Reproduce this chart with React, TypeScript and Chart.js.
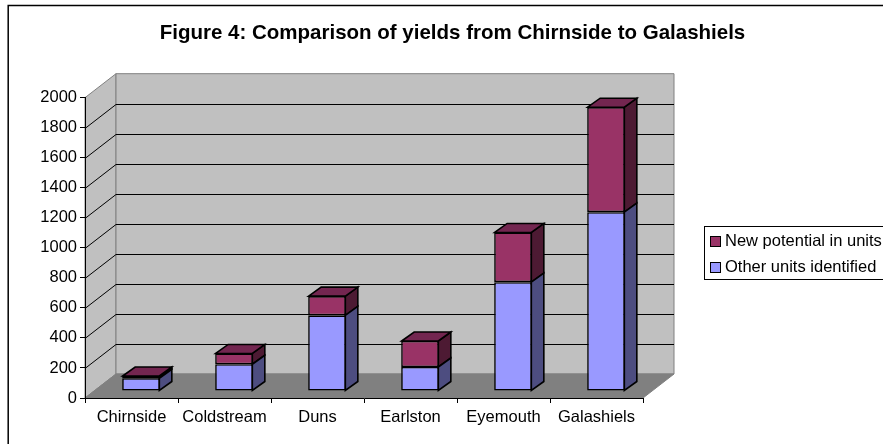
import React, { useEffect, useRef } from "react";
import { Chart, registerables } from "chart.js";

Chart.register(...registerables);

const categories = ["Chirnside", "Coldstream", "Duns", "Earlston", "Eyemouth", "Galashiels"];
const otherUnits = [85, 178, 504, 160, 725, 1191];
const newPotential = [15, 72, 128, 173, 331, 699];
const seriesLabels = ["Other units identified", "New potential in units"];
const titleText = "Figure 4: Comparison of yields from Chirnside to Galashiels";

const FONT = "'Liberation Sans', Arial, sans-serif";
const FONT_SIZE = 16.5;
const EDGE = 1.6;
const DEPTH = { x: 31, y: 24 };
const BAR_OFFSET = { x: 9.5, y: 7 };
const BAR_DEPTH = { x: 12.5, y: 9 };
const faces = [
  { front: "#9999ff", side: "#4d4d80", top: "#7a7acc" },
  { front: "#993366", side: "#4d1a33", top: "#732650" },
];

const poly = (ctx: CanvasRenderingContext2D, pts: number[][], fill?: string, stroke?: string, lw = 1) => {
  ctx.beginPath();
  pts.forEach(([x, y], i) => (i ? ctx.lineTo(x, y) : ctx.moveTo(x, y)));
  ctx.closePath();
  if (fill) {
    ctx.fillStyle = fill;
    ctx.fill();
  }
  if (stroke) {
    ctx.strokeStyle = stroke;
    ctx.lineWidth = lw;
    ctx.stroke();
  }
};

const threeD = {
  id: "threeD",
  beforeDraw(chart: any) {
    const { ctx, chartArea: a, scales } = chart;
    const { x: dx, y: dy } = DEPTH;
    ctx.save();
    ctx.fillStyle = "#ffffff";
    ctx.fillRect(0, 0, chart.width, chart.height);
    ctx.strokeStyle = "#000000";
    ctx.lineWidth = 1.5;
    ctx.beginPath();
    ctx.moveTo(8.2, chart.height);
    ctx.lineTo(8.2, 5.5);
    ctx.lineTo(chart.width, 5.5);
    ctx.stroke();
    const gray = "#808080";
    poly(ctx, [[a.left, a.top], [a.left + dx, a.top - dy], [a.left + dx, a.bottom - dy], [a.left, a.bottom]], "#c0c0c0", gray);
    poly(ctx, [[a.left + dx, a.top - dy], [a.right + dx, a.top - dy], [a.right + dx, a.bottom - dy], [a.left + dx, a.bottom - dy]], "#c0c0c0", gray);
    poly(ctx, [[a.left, a.bottom], [a.left + dx, a.bottom - dy], [a.right + dx, a.bottom - dy], [a.right, a.bottom]], gray, gray);
    ctx.strokeStyle = "#000000";
    ctx.lineWidth = 1;
    const y = scales.y;
    y.ticks.forEach((t: any) => {
      if (t.value === y.min || t.value === y.max) return;
      const py = Math.round(y.getPixelForValue(t.value)) + 0.5;
      ctx.beginPath();
      ctx.moveTo(a.left, py);
      ctx.lineTo(a.left + dx, py - dy);
      ctx.lineTo(a.right + dx, py - dy);
      ctx.stroke();
    });
    ctx.restore();
  },
  beforeDatasetDraw(chart: any, args: any) {
    const { ctx } = chart;
    const idx = args.index;
    const { x: bx, y: by } = BAR_DEPTH;
    ctx.save();
    ctx.translate(BAR_OFFSET.x, -BAR_OFFSET.y);
    args.meta.data.forEach((bar: any) => {
      const right = bar.x + bar.width / 2 - 0.5;
      const left = bar.x - bar.width / 2 + 0.5;
      const top = bar.y;
      const base = bar.base;
      poly(ctx, [[right, top], [right + bx, top - by], [right + bx, base - by], [right, base]], faces[idx].side, "#000000", EDGE);
      if (idx === chart.data.datasets.length - 1) {
        poly(ctx, [[left, top], [left + bx, top - by], [right + bx, top - by], [right, top]], faces[idx].top, "#000000", EDGE);
      }
    });
  },
  afterDatasetDraw(chart: any) {
    chart.ctx.restore();
  },
  afterLayout(chart: any) {
    const t = chart.titleBlock;
    t.left = 0;
    t.right = 905;
  },
  afterDraw(chart: any) {
    const { ctx } = chart;
    ctx.save();
    ctx.fillStyle = "#ffffff";
    ctx.fillRect(704.5, 226.5, 190, 53);
    ctx.strokeStyle = "#000000";
    ctx.lineWidth = 1;
    ctx.strokeRect(704.5, 226.5, 190, 53);
    ctx.font = `${FONT_SIZE}px ${FONT}`;
    ctx.textBaseline = "alphabetic";
    [...chart.data.datasets].reverse().forEach((ds: any, i: number) => {
      const y = 236.5 + i * 26;
      ctx.fillStyle = ds.backgroundColor;
      ctx.fillRect(710.5, y, 10, 10);
      ctx.strokeRect(710.5, y, 10, 10);
      ctx.fillStyle = "#000000";
      ctx.fillText(ds.label, 725, y + 9.5);
    });
    ctx.restore();
  },
};

export default function App() {
  const ref = useRef<HTMLCanvasElement>(null);
  useEffect(() => {
    document.body.style.margin = "0";
    const chart = new Chart(ref.current!, {
      type: "bar",
      data: {
        labels: categories,
        datasets: [
          { label: seriesLabels[0], data: otherUnits, backgroundColor: faces[0].front, borderColor: "#000000", borderWidth: EDGE, borderSkipped: false, clip: false } as any,
          { label: seriesLabels[1], data: newPotential, backgroundColor: faces[1].front, borderColor: "#000000", borderWidth: EDGE, borderSkipped: false, clip: false } as any,
        ],
      },
      options: {
        animation: false,
        responsive: false,
        layout: { padding: { left: 0, right: 240, top: 0, bottom: 0 } },
        datasets: { bar: { categoryPercentage: 1, barPercentage: 0.405 } },
        font: { family: FONT, size: FONT_SIZE },
        plugins: {
          legend: { display: false },
          tooltip: { enabled: false },
          title: {
            display: true,
            text: titleText,
            color: "#000000",
            font: { family: FONT, size: 20.5, weight: "bold" },
            padding: { top: 20.7, bottom: 52.4 },
          },
        },
        scales: {
          x: {
            stacked: true,
            grid: { drawOnChartArea: false, drawTicks: true, tickLength: 5, color: "#000000" },
            border: { color: "#000000", width: 1 },
            ticks: { color: "#000000", font: { family: FONT, size: FONT_SIZE }, maxRotation: 0, autoSkip: false, padding: 5 },
            afterFit: (s: any) => { s.height = 46; },
          },
          y: {
            stacked: true,
            min: 0,
            max: 2000,
            grid: { drawOnChartArea: false, drawTicks: true, tickLength: 5, color: "#000000" },
            border: { color: "#000000", width: 1 },
            ticks: { stepSize: 200, color: "#000000", font: { family: FONT, size: FONT_SIZE }, padding: 3, format: { useGrouping: false } },
            afterFit: (s: any) => { s.width = 85; },
          },
        },
      } as any,
      plugins: [threeD],
    });
    return () => chart.destroy();
  }, []);
  return <canvas ref={ref} width={883} height={444} style={{ display: "block", width: 883, height: 444 }} />;
}
